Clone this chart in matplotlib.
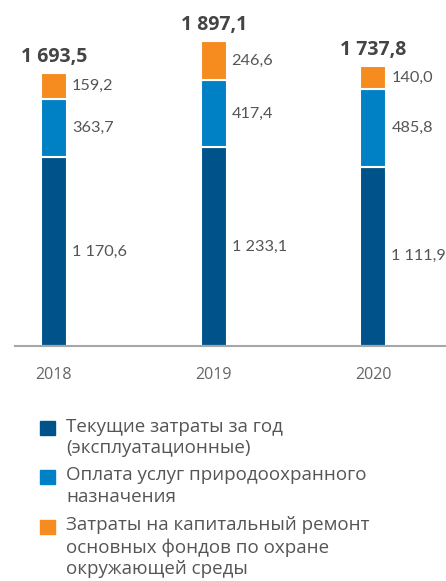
import matplotlib.pyplot as plt
from matplotlib.patches import Rectangle

years = ["2018", "2019", "2020"]
current = [1170.6, 1233.1, 1111.9]
services = [363.7, 417.4, 485.8]
repair = [159.2, 246.6, 140.0]
totals = [1693.5, 1897.1, 1737.8]

labels = [
    "Текущие затраты за год\n(эксплуатационные)",
    "Оплата услуг природоохранного\nназначения",
    "Затраты на капитальный ремонт\nосновных фондов по охране\nокружающей среды",
]
colors = ["#00538a", "#0080c5", "#f68b20"]


def fmt(v):
    s = f"{v:,.1f}".replace(",", " ").replace(".", ",")
    return s


plt.rcParams["font.family"] = ["Open Sans", "DejaVu Sans"]

fig = plt.figure(figsize=(4.46, 5.81), dpi=100)
ax = fig.add_axes([15 / 446, 1 - 345.7 / 581, 431 / 446, 345.7 / 581])

x = range(len(years))
w = 0.163
series = [current, services, repair]
bottom = [0, 0, 0]
for vals, c in zip(series, colors):
    ax.bar(x, vals, w, bottom=bottom, color=c, edgecolor="white", linewidth=1.5)
    for i, v in enumerate(vals):
        ax.text(i + w / 2 + 0.03, bottom[i] + v / 2, fmt(v), ha="left", va="center",
                fontsize=11.7, color="#555555", family=["Lato", "DejaVu Sans"])
    bottom = [b + v for b, v in zip(bottom, vals)]

for i, t in enumerate(totals):
    ax.text(i, t + 68, fmt(t), ha="center", va="baseline", fontsize=14,
            fontweight="bold", color="#444444")

ax.set_xlim(-0.244, 2.454)
ax.set_ylim(0, 2150)
for s in ["top", "right", "left"]:
    ax.spines[s].set_visible(False)
ax.spines["bottom"].set_color("#a6a6a6")
ax.spines["bottom"].set_linewidth(1.5)
ax.set_yticks([])
ax.set_xticks(list(x))
ax.set_xticklabels(years, fontsize=11.5, color="#666666")
ax.tick_params(axis="x", length=0, pad=15)

# legend
tops = [420.7, 469.5, 519.5]
for lab, c, ty in zip(labels, colors, tops):
    fig.patches.append(Rectangle((40 / 446, 1 - (ty + 14) / 581), 15 / 446, 14 / 581,
                                 transform=fig.transFigure, color=c))
    fig.text(66 / 446, 1 - (ty - 3) / 581, lab, ha="left", va="top", fontsize=13.5,
             color="#555555", linespacing=1.25)

fig.savefig("out.png", dpi=100)
